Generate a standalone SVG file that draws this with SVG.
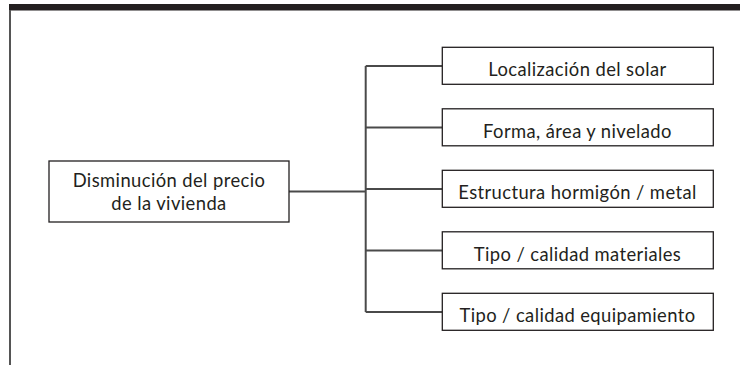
<svg xmlns="http://www.w3.org/2000/svg" width="740" height="366" viewBox="0 0 740 366">
<style>
.box{fill:#fff;stroke:#231f20;stroke-width:1.3}
.t{font-family:Lato,"Liberation Sans",sans-serif;font-size:18.4px;letter-spacing:0.4px;fill:#231f20;text-anchor:middle}
.c{fill:none;stroke:#4a4a4a;stroke-width:2}
</style>
<rect x="0" y="0" width="740" height="366" fill="#fff"/>
<rect x="9" y="4" width="731" height="6.5" fill="#231f20"/>
<line x1="10" y1="10" x2="10" y2="365" stroke="#555" stroke-width="2"/>
<g id="connectors">
<line class="c" x1="289" y1="191.5" x2="365.7" y2="191.5"/>
<line class="c" x1="365.7" y1="66" x2="365.7" y2="312"/>
<line class="c" x1="365.7" y1="66" x2="442" y2="66"/>
<line class="c" x1="365.7" y1="127.5" x2="442" y2="127.5"/>
<line class="c" x1="365.7" y1="189" x2="442" y2="189"/>
<line class="c" x1="365.7" y1="250.5" x2="442" y2="250.5"/>
<line class="c" x1="365.7" y1="312" x2="442" y2="312"/>
</g>
<g id="root">
<rect class="box" x="49" y="161" width="240" height="61"/>
<text class="t" x="169" y="186.5">Disminución del precio</text>
<text class="t" x="169" y="210">de la vivienda</text>
</g>
<g id="n1">
<rect class="box" x="442.3" y="47.3" width="271" height="37"/>
<text class="t" x="577.5" y="76.3">Localización del solar</text>
</g>
<g id="n2">
<rect class="box" x="442.3" y="108.8" width="271" height="37"/>
<text class="t" x="577.5" y="137.8">Forma, área y nivelado</text>
</g>
<g id="n3">
<rect class="box" x="442.3" y="170.3" width="271" height="37"/>
<text class="t" x="577.5" y="199.3">Estructura hormigón / metal</text>
</g>
<g id="n4">
<rect class="box" x="442.3" y="231.8" width="271" height="37"/>
<text class="t" x="577.5" y="260.8">Tipo / calidad materiales</text>
</g>
<g id="n5">
<rect class="box" x="442.3" y="293.3" width="271" height="37"/>
<text class="t" x="577.5" y="322.3">Tipo / calidad equipamiento</text>
</g>
</svg>
